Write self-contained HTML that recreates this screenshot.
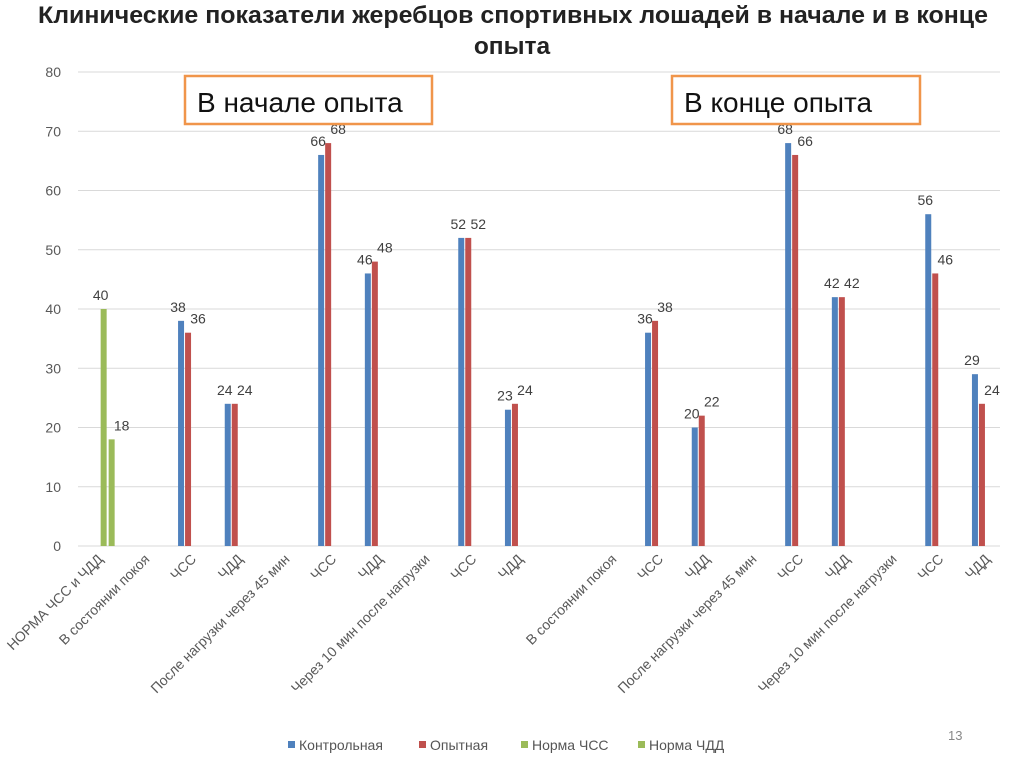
<!DOCTYPE html>
<html><head><meta charset="utf-8">
<style>
body{margin:0;background:#fff;}
svg text{font-family:"Liberation Sans","DejaVu Sans",sans-serif;}
</style></head>
<body>
<svg id="chart" width="1024" height="767" xmlns="http://www.w3.org/2000/svg">
<text x="513" y="23" font-size="24.5" font-weight="bold" text-anchor="middle" fill="#222" textLength="950" lengthAdjust="spacingAndGlyphs">Клинические показатели жеребцов спортивных лошадей в начале и в конце</text>
<text x="512" y="54" font-size="24.5" font-weight="bold" text-anchor="middle" fill="#222">опыта</text>
<g id="grid"></g><g id="bars"></g><g id="labels"></g><g id="xlabels"></g>
<rect x="185" y="76" width="247" height="48" fill="#fff" stroke="#f0954a" stroke-width="2.5"/>
<text x="197" y="112" font-size="28" fill="#111">В начале опыта</text>
<rect x="672" y="76" width="248" height="48" fill="#fff" stroke="#f0954a" stroke-width="2.5"/>
<text x="684" y="112" font-size="28" fill="#111">В конце опыта</text>
<g font-size="14" fill="#555">
<rect x="288" y="741" width="7" height="7" fill="#4f81bd"/><text x="299" y="750">Контрольная</text>
<rect x="419" y="741" width="7" height="7" fill="#c0504d"/><text x="430" y="750">Опытная</text>
<rect x="521" y="741" width="7" height="7" fill="#9bbb59"/><text x="532" y="750">Норма ЧСС</text>
<rect x="638" y="741" width="7" height="7" fill="#9bbb59"/><text x="649" y="750">Норма ЧДД</text>
</g>
<text x="948" y="740" font-size="13" fill="#888">13</text>
</svg>
<script>
const categories=["НОРМА ЧСС и ЧДД","В состоянии покоя","ЧСС","ЧДД","После нагрузки через 45 мин","ЧСС","ЧДД","Через 10 мин после нагрузки","ЧСС","ЧДД","","В состоянии покоя","ЧСС","ЧДД","После нагрузки через 45 мин","ЧСС","ЧДД","Через 10 мин после нагрузки","ЧСС","ЧДД"];
const control=[null,null,38,24,null,66,46,null,52,23,null,null,36,20,null,68,42,null,56,29];
const experimental=[null,null,36,24,null,68,48,null,52,24,null,null,38,22,null,66,42,null,46,24];
const normHR=[40,null,null,null,null,null,null,null,null,null,null,null,null,null,null,null,null,null,null,null];
const normRR=[18,null,null,null,null,null,null,null,null,null,null,null,null,null,null,null,null,null,null,null];
const yTicks=[0,10,20,30,40,50,60,70,80];
const NS="http://www.w3.org/2000/svg";
const y0=546,y1=72,yMax=80;
const band=46.7,xStart=75.3;
function yS(v){return y0-(v/yMax)*(y0-y1);}
function xC(i){return xStart+band*(i+0.5);}
function mk(t,a,p){const e=document.createElementNS(NS,t);for(const k in a)e.setAttribute(k,a[k]);p.appendChild(e);return e;}
const grid=document.getElementById('grid');
yTicks.forEach(v=>{
 const l=mk('line',{x1:78,x2:1000,y1:yS(v),y2:yS(v),stroke:'#d9d9d9','stroke-width':1},grid);
 
 
 const t=mk('text',{x:61,y:yS(v)+5,'font-size':14,fill:'#595959','text-anchor':'end'},grid);
 t.textContent=v;
 
 
});
const series=[[control,'#4f81bd','control'],[experimental,'#c0504d','experimental'],[normHR,'#9bbb59','norm-hr'],[normRR,'#9bbb59','norm-rr']];
const bars=document.getElementById('bars'),labels=document.getElementById('labels');
const bw=7;
series.forEach((s,si)=>{
 s[0].forEach((v,i)=>{
  if(v==null)return;
  const x=xC(i)-14+si*bw+(si>=2?2:0)+(si==3?1:0);
  const r=mk('rect',{x:x,y:yS(v),width:bw-1,height:y0-yS(v),fill:s[1]},bars);
  
  
  const lx=x+3+(si==1||si==3?10:-3);
  const t=mk('text',{x:lx,y:yS(v)-9,'font-size':14,fill:'#404040','text-anchor':'middle'},labels);
  t.textContent=v;
  
  
 });
});
const xl=document.getElementById('xlabels');
categories.forEach((c,i)=>{
 if(!c)return;
 const x=xC(i)+5,y=560;
 const t=mk('text',{x:x,y:y,'font-size':14,fill:'#595959','text-anchor':'end',transform:`rotate(-45 ${x} ${y})`},xl);
 t.textContent=c;
 
 
});
</script>
</body></html>
